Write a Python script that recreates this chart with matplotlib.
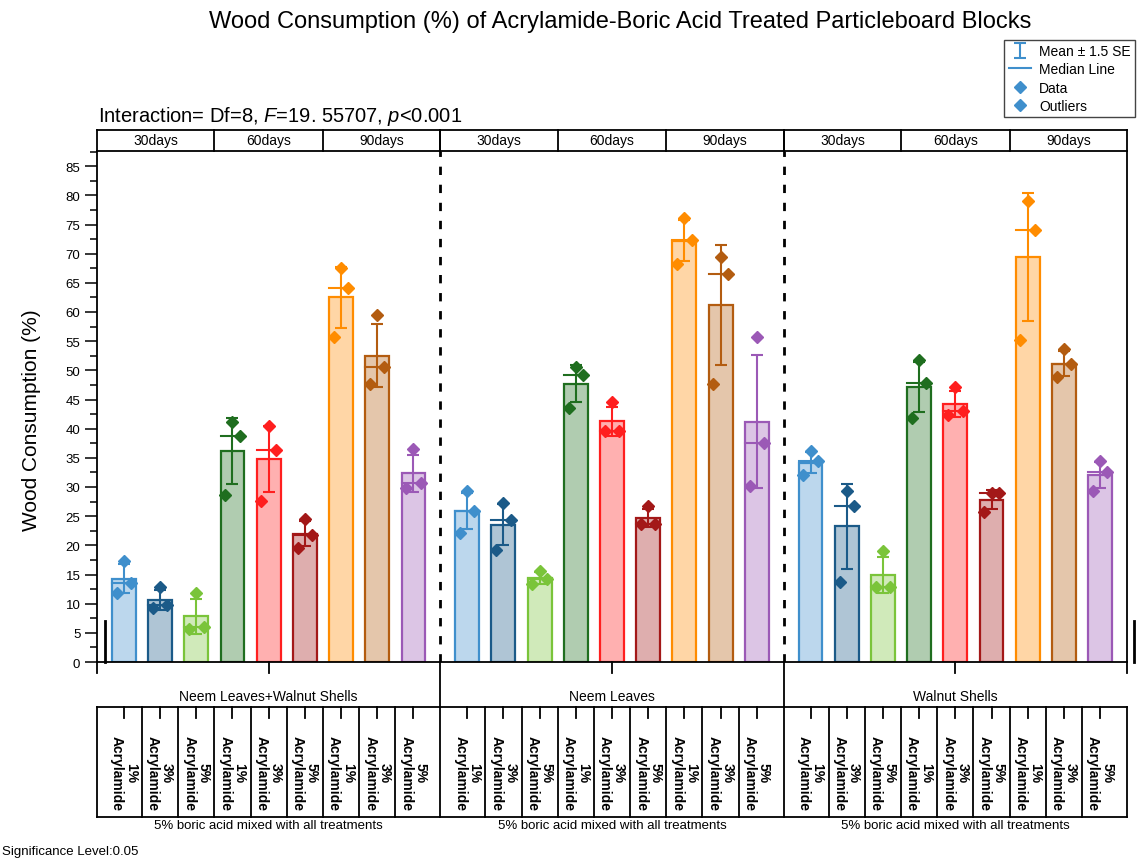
import numpy as np
import matplotlib.pyplot as plt
from matplotlib.lines import Line2D
from matplotlib.ticker import MultipleLocator
from matplotlib.transforms import blended_transform_factory
from matplotlib.colors import to_rgba
from matplotlib.container import ErrorbarContainer
from matplotlib.legend_handler import HandlerErrorbar

plt.rcParams['font.family'] = ['Liberation Sans', 'DejaVu Sans']
plt.rcParams['mathtext.fontset'] = 'custom'
plt.rcParams['mathtext.rm'] = 'Liberation Sans'
plt.rcParams['mathtext.it'] = 'Liberation Sans:italic'

# labels
panels = ["Neem Leaves+Walnut Shells", "Neem Leaves", "Walnut Shells"]
days = ["30days", "60days", "90days"]
doses = ["1%", "3%", "5%"]

# replicate readings (%), bars in order 30d 1/3/5%, 60d 1/3/5%, 90d 1/3/5%
neem_walnut = [
    [17.4, 13.5, 11.8],
    [12.9, 9.8, 9.3],
    [11.8, 6.0, 5.7],
    [41.1, 38.7, 28.7],
    [40.4, 36.3, 27.6],
    [24.5, 21.8, 19.6],
    [67.6, 64.2, 55.8],
    [59.5, 50.5, 47.6],
    [36.5, 30.7, 29.8],
]
neem = [
    [29.4, 25.9, 22.2],
    [27.2, 24.3, 19.2],
    [15.6, 14.2, 13.4],
    [50.5, 49.2, 43.5],
    [44.5, 39.6, 39.6],
    [26.8, 23.7, 23.7],
    [76.2, 72.3, 68.2],
    [69.5, 66.5, 47.6],
    [55.8, 37.5, 30.2],
]
walnut = [
    [36.1, 34.4, 32.0],
    [29.4, 26.8, 13.7],
    [19.0, 12.8, 12.8],
    [51.8, 47.8, 41.8],
    [47.1, 43.1, 42.3],
    [28.9, 28.9, 25.7],
    [79.1, 74.0, 55.2],
    [53.6, 51.1, 48.8],
    [34.5, 32.5, 29.4],
]
all_data = [neem_walnut, neem, walnut]

colors = ["#3f8fcc", "#1b5a88", "#7ac43a", "#1f6e1f", "#ff1f1f",
          "#a31818", "#ff8c00", "#b35c10", "#9b59b6"]
jitter = [0.0, 0.2, -0.2]

W, H = 1137, 862
L, R, T, B = 97, 1127, 152, 663
fig = plt.figure(figsize=(W / 100, H / 100), dpi=100)
ax = fig.add_axes([L / W, 1 - B / H, (R - L) / W, (B - T) / H])
ov = fig.add_axes([0, 0, 1, 1])
ov.set_xlim(0, W)
ov.set_ylim(H, 0)
ov.axis('off')

slots = 9.485
margin = (slots - 8) / 2
bw = 0.66
ax.set_xlim(0, 3 * slots)
ax.set_ylim(0, 87.6)

for p, pdata in enumerate(all_data):
    for i, vals in enumerate(pdata):
        vals = np.array(vals)
        x = p * slots + margin + i
        c = colors[i]
        mean = vals.mean()
        med = np.median(vals)
        se = vals.std(ddof=1) / np.sqrt(len(vals))
        ax.bar(x, mean, width=bw, color=to_rgba(c, 0.35), edgecolor=c,
               linewidth=1.6, zorder=2)
        ax.errorbar(x, mean, yerr=1.5 * se, fmt='none', ecolor=c,
                    elinewidth=1.5, capsize=4.5, capthick=1.5, zorder=3)
        ax.plot([x - bw / 2, x + bw / 2], [med, med], color=c, lw=1.5, zorder=3)
        ax.plot(x + np.array(jitter), vals, 'D', color=c, ms=6.5, zorder=4,
                clip_on=False)

for p in (1, 2):
    ax.axvline(p * slots, color='black', lw=2, ls=(0, (3, 3.5)), zorder=1)

ax.set_yticks(np.arange(0, 90, 5))
ax.yaxis.set_minor_locator(MultipleLocator(2.5))
ax.tick_params(axis='y', which='major', direction='out', length=8.5, width=1.1,
               labelsize=9.5)
ax.tick_params(axis='y', which='minor', direction='out', length=5, width=1.1)
ax.set_xticks([])
for s in ax.spines.values():
    s.set_linewidth(1.3)
ax.set_ylabel("Wood Consumption (%)", fontsize=15)
ax.yaxis.set_label_coords(-0.054, 0.476)

# header and category boxes around the plot
tr = blended_transform_factory(ax.transData, ov.transData)
kw = dict(color='black', lw=1.3, transform=tr, clip_on=False)
xmax = 3 * slots
ov.plot([0, xmax], [131, 131], **kw)
ov.plot([0, xmax], [708, 708], **kw)
ov.plot([0, xmax], [818, 818], **kw)
for p in range(3):
    x0 = p * slots
    bounds = [x0, x0 + margin + 2.5, x0 + margin + 5.5, x0 + slots]
    for b in bounds:
        ov.plot([b, b], [131, 152], **kw)
    for g in range(3):
        ov.text((bounds[g] + bounds[g + 1]) / 2, 141.5, days[g], transform=tr,
                ha='center', va='center', fontsize=10)
    # row with the treatment name
    ov.plot([x0 + slots / 2] * 2, [663, 674], **kw)
    ov.text(x0 + slots / 2, 697, panels[p], transform=tr, ha='center',
            va='center', fontsize=10)
    ov.text(x0 + slots / 2, 826, "5% boric acid mixed with all treatments",
            transform=tr, ha='center', va='center', fontsize=9.5)
    # row with the acrylamide doses
    ov.plot([x0, x0], [708, 818], **kw)
    for i in range(9):
        xc = x0 + margin + i
        if i < 8:
            ov.plot([xc + 0.5, xc + 0.5], [708, 818], **kw)
        ov.plot([xc, xc], [708, 719], **kw)
        ov.text(xc, 736, doses[i % 3] + "\nAcrylamide", transform=tr,
                rotation=270, ha='center', va='top', multialignment='center',
                fontsize=10, fontweight='bold', linespacing=1.0)
ov.plot([xmax, xmax], [708, 818], **kw)
ov.plot([0, 0], [663, 674], **kw)
ov.plot([xmax, xmax], [663, 674], **kw)
for p in (1, 2):
    ov.plot([p * slots] * 2, [663, 708], **kw)

# short marks at the lower corners
ov.plot([105, 105], [622, 663], color='black', lw=2)
ov.plot([1134, 1134], [622, 663], color='black', lw=2)

fig.text(620 / W, 1 - 22 / H,
         "Wood Consumption (%) of Acrylamide-Boric Acid Treated Particleboard Blocks",
         ha='center', va='center', fontsize=17)
fig.text(98 / W, 1 - 117 / H,
         r"Interaction= Df=8, $\mathit{F}$=19. 55707, $\mathit{p}$<0.001",
         ha='left', va='center', fontsize=14.5)
fig.text(2 / W, 1 - 852 / H, "Significance Level:0.05", ha='left',
         va='center', fontsize=9.5)

# legend
blue = "#3f8fcc"
eb = ax.errorbar([np.nan], [np.nan], yerr=[np.nan], fmt='none', ecolor=blue,
                 elinewidth=1.5, capsize=4, capthick=1.5)
handles = [eb,
           Line2D([], [], color=blue, lw=1.5),
           Line2D([], [], marker='D', ls='none', color=blue, ms=6),
           Line2D([], [], marker='D', ls='none', color=blue, ms=6)]
fig.legend(handles, ["Mean ± 1.5 SE", "Median Line", "Data", "Outliers"],
           loc='upper right', bbox_to_anchor=(1135 / W, 1 - 41 / H),
           fontsize=10, frameon=True, fancybox=False, edgecolor='#444444',
           framealpha=1, borderpad=0.3, labelspacing=0.3, handlelength=1.6,
           handletextpad=0.6, borderaxespad=0,
           handler_map={ErrorbarContainer: HandlerErrorbar(yerr_size=0.55)})

fig.savefig("out.png", dpi=100)
